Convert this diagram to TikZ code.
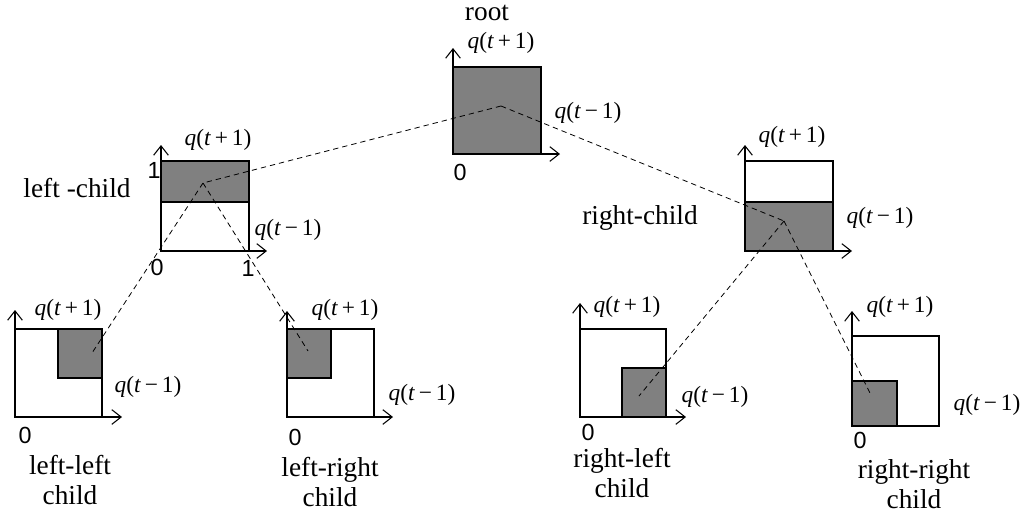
\documentclass[tikz,border=0pt]{standalone}
\usepackage{fontspec}
\setmainfont{Liberation Serif}
\newfontfamily\numfont{Liberation Sans}
\usetikzlibrary{arrows.meta}
\definecolor{shade}{RGB}{128,128,128}
\newcommand{\qplus}{\textit{q}(\textit{t}\,+\,1)}
\newcommand{\qminus}{\textit{q}(\textit{t}\,−\,1)}
\tikzset{
  boxline/.style={draw=black, line width=0.9pt},
  shadefill/.style={fill=shade, draw=black, line width=0.9pt},
  axis/.style={line width=0.8pt, -{Straight Barb[length=7pt,width=11pt,line width=0.8pt]}},
  conn/.style={line width=0.6pt, dash pattern=on 4pt off 3pt},
  lbl/.style={inner sep=0pt, font=\fontsize{20.5}{23}\selectfont, align=center},
  qlbl/.style={inner sep=0pt, font=\fontsize{17.5}{19}\selectfont},
  num/.style={inner sep=0pt, font=\numfont\fontsize{17.5}{19}\selectfont},
}
\begin{document}
\begin{tikzpicture}[x=0.75pt,y=-0.75pt]
\useasboundingbox (0,0) rectangle (1024,515);
% ---- root
\path[shadefill] (453,67) rectangle (541,154);
\draw[axis] (453,154) -- (453,48);
\draw[axis] (453,154) -- (560,154);
\node[lbl] (troot) at (487,13) {root};
\node[qlbl] (rq1) at (501,43) {\qplus};
\node[qlbl] (rq2) at (588,113) {\qminus};
\node[num] (r0) at (460,172) {0};
% ---- left child
\draw[boxline] (161,161) rectangle (249,251);
\path[shadefill] (161,161) rectangle (249,202);
\draw[axis] (161,251) -- (161,145);
\draw[axis] (161,251) -- (267,251);
\node[lbl] (tl) at (77,188) {left -child};
\node[qlbl] (lq1) at (218,140) {\qplus};
\node[qlbl] (lq2) at (288,230) {\qminus};
\node[num] (l1a) at (154,170) {1};
\node[num] (l0) at (157,267) {0};
\node[num] (l1b) at (248,268) {1};
% ---- right child
\draw[boxline] (745,161) rectangle (833,251);
\path[shadefill] (745,202) rectangle (833,251);
\draw[axis] (745,251) -- (745,145);
\draw[axis] (745,251) -- (852,251);
\node[lbl] (tr) at (640,218) {right-child};
\node[qlbl] (rcq1) at (792,137) {\qplus};
\node[qlbl] (rcq2) at (880,218) {\qminus};
% ---- left-left
\draw[boxline] (15,329) rectangle (102,417);
\path[shadefill] (58,329) rectangle (102,378);
\draw[axis] (15,417) -- (15,310);
\draw[axis] (15,417) -- (122,417);
\node[lbl] (tll) at (70,480) {left-left\\child};
\node[qlbl] (llq1) at (68,310) {\qplus};
\node[qlbl] (llq2) at (148,387) {\qminus};
\node[num] (ll0) at (25,435) {0};
% ---- left-right
\draw[boxline] (287,329) rectangle (374,417);
\path[shadefill] (287,329) rectangle (331,378);
\draw[axis] (287,417) -- (287,311);
\draw[axis] (287,417) -- (393,417);
\node[lbl] (tlr) at (330,482) {left-right\\child};
\node[qlbl] (lrq1) at (345,310) {\qplus};
\node[qlbl] (lrq2) at (422,395) {\qminus};
\node[num] (lr0) at (295,437) {0};
% ---- right-left
\draw[boxline] (580,329) rectangle (666,417);
\path[shadefill] (622,368) rectangle (666,417);
\draw[axis] (580,417) -- (580,303);
\draw[axis] (580,417) -- (686,417);
\node[lbl] (trl) at (622,473) {right-left\\child};
\node[qlbl] (rlq1) at (627,307) {\qplus};
\node[qlbl] (rlq2) at (715,397) {\qminus};
\node[num] (rl0) at (588,432) {0};
% ---- right-right
\draw[boxline] (852,336) rectangle (939,426);
\path[shadefill] (852,381) rectangle (897,426);
\draw[axis] (852,426) -- (852,311);
\node[lbl] (trr) at (914,484) {right-right\\child};
\node[qlbl] (rrq1) at (900,307) {\qplus};
\node[qlbl] (rrq2) at (987,405) {\qminus};
\node[num] (rr0) at (860,440) {0};
% ---- connector points
\coordinate (croot) at (501,106);
\coordinate (cl) at (203,183);
\coordinate (cr) at (784,221);
\coordinate (cll) at (92,353);
\coordinate (clr) at (308,351);
\coordinate (crl) at (639,396);
\coordinate (crr) at (870,393);
\draw[conn] (croot) -- (cl);
\draw[conn] (croot) -- (cr);
\draw[conn] (cl) -- (cll);
\draw[conn] (cl) -- (clr);
\draw[conn] (cr) -- (crl);
\draw[conn] (cr) -- (crr);
\end{tikzpicture}
\end{document}
